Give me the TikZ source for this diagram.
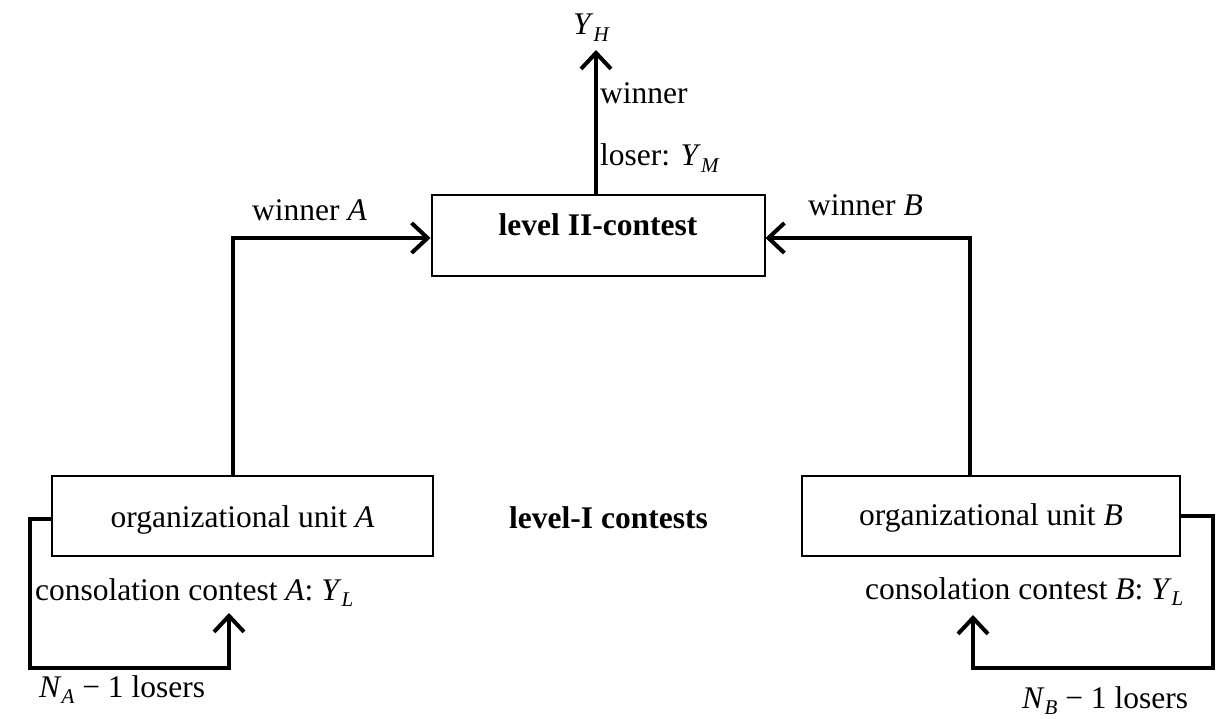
\documentclass[tikz,border=0pt]{standalone}
\usepackage{fontspec}
\setmainfont{Liberation Serif}
\usetikzlibrary{arrows.meta}
\newcommand{\mysub}[1]{\raisebox{-0.22em}{\fontsize{21}{21}\selectfont\itshape #1}}
\begin{document}
\begin{tikzpicture}[x=1pt,y=-1pt,
  txt/.style={font=\fontsize{31.5}{38}\selectfont, inner sep=0pt},
  boldtxt/.style={font=\fontsize{31.5}{38}\selectfont\bfseries, inner sep=0pt},
  lbl/.style={txt, anchor=base west},
  box/.style={draw, line width=2pt, inner sep=0pt},
  conn/.style={line width=4pt, -{Straight Barb[length=16pt,width=30pt]}}]
\path[use as bounding box] (0,0) rectangle (1216,719);

% boxes
\node[box, boldtxt, minimum width=333pt, minimum height=81pt, text height=12pt, text depth=11pt] (II) at (598,235.5) {level II-contest};
\node[box, txt, minimum width=381pt, minimum height=80pt, text height=24pt, text depth=2pt] (A) at (242.5,516) {organizational unit \textit{A}};
\node[box, txt, minimum width=378pt, minimum height=80pt, text height=22pt, text depth=4pt] (B) at (991,516) {organizational unit \textit{B}};

% labels
\node[boldtxt, anchor=base west] (lvl) at (509,528) {level-I contests};
\node[lbl] (yh) at (573,35) {\textit{Y}\mysub{H}};
\node[lbl] (win) at (600,104) {winner};
\node[lbl] (los) at (600,166) {loser: \textit{Y}\mysub{M}};
\node[lbl] (wa) at (252,221) {winner \textit{A}};
\node[lbl] (wb) at (808,216) {winner \textit{B}};
\node[lbl] (ca) at (35,600) {consolation contest \textit{A}: \textit{Y}\mysub{L}};
\node[lbl] (cb) at (865,599) {consolation contest \textit{B}: \textit{Y}\mysub{L}};
\node[lbl] (na) at (39,697) {\textit{N}\mysub{A} − 1 losers};
\node[lbl] (nb) at (1022,708) {\textit{N}\mysub{B} − 1 losers};

% connector corners and free ends
\coordinate (yhtip) at (596,50);
\coordinate (ka) at (233,238);
\coordinate (kb) at (970,238);
\coordinate (fa1) at (30,519);
\coordinate (fa2) at (30,668);
\coordinate (fa3) at (229,668);
\coordinate (fatip) at (229,613);
\coordinate (fb1) at (1213,516);
\coordinate (fb2) at (1213,668);
\coordinate (fb3) at (973,668);
\coordinate (fbtip) at (973,615);

% connectors
\draw[conn] (II.north -| yhtip) -- (yhtip);
\draw[conn] (A.north -| ka) -- (ka) -- (II.west |- ka);
\draw[conn] (B.north -| kb) -- (kb) -- (II.east |- kb);
\draw[conn] (A.west |- fa1) -- (fa1) -- (fa2) -- (fa3) -- (fatip);
\draw[conn] (B.east |- fb1) -- (fb1) -- (fb2) -- (fb3) -- (fbtip);
\end{tikzpicture}
\end{document}
